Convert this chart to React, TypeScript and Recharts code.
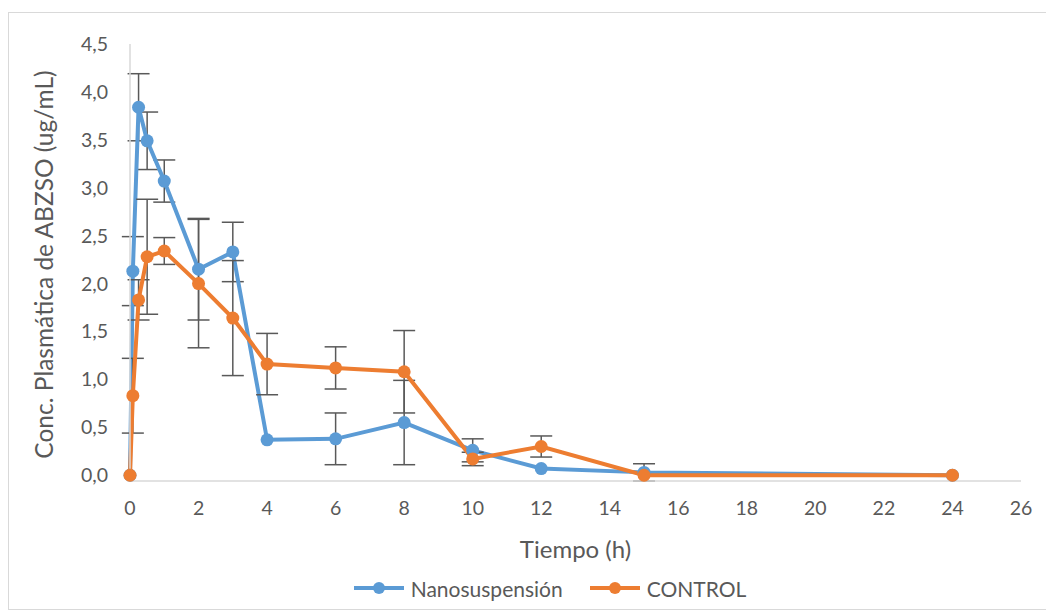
import React from "react";
import { LineChart, Line, XAxis, YAxis, ErrorBar, Legend } from "recharts";

// Sampling times (h)
const timeH = [0, 0.083, 0.25, 0.5, 1, 2, 3, 4, 6, 8, 10, 12, 15, 24];

// Nanosuspensión: mean plasma concentration and standard deviation (ug/mL)
const nanoMean = [0, 2.13, 3.84, 3.49, 3.07, 2.15, 2.33, 0.37, 0.38, 0.55, 0.26, 0.07, 0.03, 0];
const nanoSd = [0, 0.36, 0.35, 0.3, 0.22, 0.53, 0.31, 0, 0.27, 0.44, 0.12, 0, 0.09, 0];

// CONTROL: mean plasma concentration and standard deviation (ug/mL)
const controlMean = [0, 0.83, 1.83, 2.28, 2.34, 2.0, 1.64, 1.16, 1.12, 1.08, 0.17, 0.3, 0, 0];
const controlSd = [0, 0.39, 0.21, 0.6, 0.14, 0.67, 0.6, 0.32, 0.22, 0.43, 0.07, 0.11, 0, 0];

const xTicks = [0, 2, 4, 6, 8, 10, 12, 14, 16, 18, 20, 22, 24, 26];
const yTicks = [0, 0.5, 1, 1.5, 2, 2.5, 3, 3.5, 4, 4.5];

const seriesNames = ["Nanosuspensión", "CONTROL"];

const BLUE = "#5B9BD5";
const ORANGE = "#ED7D31";
const TEXT = "#595959";
const AXIS = "#D9D9D9";
const FONT = "Lato, 'Open Sans', sans-serif";

const data = timeH.map((t, i) => ({
  t,
  nano: nanoMean[i],
  nanoSd: nanoSd[i],
  control: controlMean[i],
  controlSd: controlSd[i],
}));

const fmtComma = (v: number) => v.toFixed(1).replace(".", ",");

const YTitle = (props: any) => {
  const vb = props.viewBox || {};
  const cx = vb.x + 34;
  const cy = vb.y + vb.height / 2 + 2;
  return (
    <text
      x={cx}
      y={cy}
      transform={`rotate(-90, ${cx}, ${cy})`}
      textAnchor="middle"
      dominantBaseline="central"
      fill={TEXT}
      fontSize={24.5}
      fontFamily={FONT}
    >
      Conc. Plasmática de ABZSO (ug/mL)
    </text>
  );
};

const LegendContent = (props: any) => {
  const payload = [...(props.payload || [])].sort(
    (a: any, b: any) => seriesNames.indexOf(a.value) - seriesNames.indexOf(b.value)
  );
  return (
    <div
      style={{
        display: "flex",
        justifyContent: "center",
        alignItems: "center",
        height: 30,
        paddingLeft: 70,
        overflow: "hidden",
        fontFamily: FONT,
        fontSize: 21,
        lineHeight: "21px",
        color: TEXT,
      }}
    >
      {payload.map((p: any, i: number) => (
        <div
          key={i}
          style={{ display: "flex", alignItems: "center", marginLeft: i ? 27 : 0 }}
        >
          <svg width={50} height={20} style={{ marginRight: 7, display: "block" }}>
            <line x1={0} y1={10} x2={50} y2={10} stroke={p.color} strokeWidth={4} />
            <circle cx={25} cy={10} r={6} fill={p.color} />
          </svg>
          <span>{p.value}</span>
        </div>
      ))}
    </div>
  );
};

export default function App() {
  return (
    <div
      style={{
        marginTop: 4,
        width: 1046,
        height: 598,
        border: `1px solid ${AXIS}`,
        boxSizing: "border-box",
        background: "#fff",
      }}
    >
      <LineChart
        width={1044}
        height={596}
        data={data}
        margin={{ top: 31, right: 32, left: 0, bottom: 6 }}
      >
        <XAxis
          dataKey="t"
          type="number"
          domain={[0, 26]}
          ticks={xTicks}
          interval={0}
          height={92}
          axisLine={{ stroke: AXIS, strokeWidth: 1.5 }}
          tickLine={false}
          tickSize={0}
          tickMargin={20}
          tick={{ fill: TEXT, fontSize: 19.5, fontFamily: FONT }}
          label={{
            value: "Tiempo (h)",
            position: "insideBottom",
            offset: 15,
            fill: TEXT,
            fontSize: 24,
            fontFamily: FONT,
          }}
        />
        <YAxis
          type="number"
          domain={[0, 4.5]}
          ticks={yTicks}
          interval={0}
          width={121}
          axisLine={{ stroke: AXIS, strokeWidth: 1.5 }}
          tickLine={false}
          tickSize={0}
          tickMargin={22}
          tickFormatter={fmtComma}
          tick={{ fill: TEXT, fontSize: 19.5, fontFamily: FONT }}
          label={<YTitle />}
        />
        <Legend verticalAlign="bottom" content={<LegendContent />} />
        <Line
          name={seriesNames[0]}
          dataKey="nano"
          stroke={BLUE}
          strokeWidth={4}
          dot={{ r: 6.5, fill: BLUE, stroke: BLUE, strokeWidth: 0 }}
          activeDot={false}
          isAnimationActive={false}
        >
          <ErrorBar dataKey="nanoSd" direction="y" width={11} stroke={TEXT} strokeWidth={1.5} />
        </Line>
        <Line
          name={seriesNames[1]}
          dataKey="control"
          stroke={ORANGE}
          strokeWidth={4}
          dot={{ r: 6.5, fill: ORANGE, stroke: ORANGE, strokeWidth: 0 }}
          activeDot={false}
          isAnimationActive={false}
        >
          <ErrorBar dataKey="controlSd" direction="y" width={11} stroke={TEXT} strokeWidth={1.5} />
        </Line>
      </LineChart>
    </div>
  );
}
